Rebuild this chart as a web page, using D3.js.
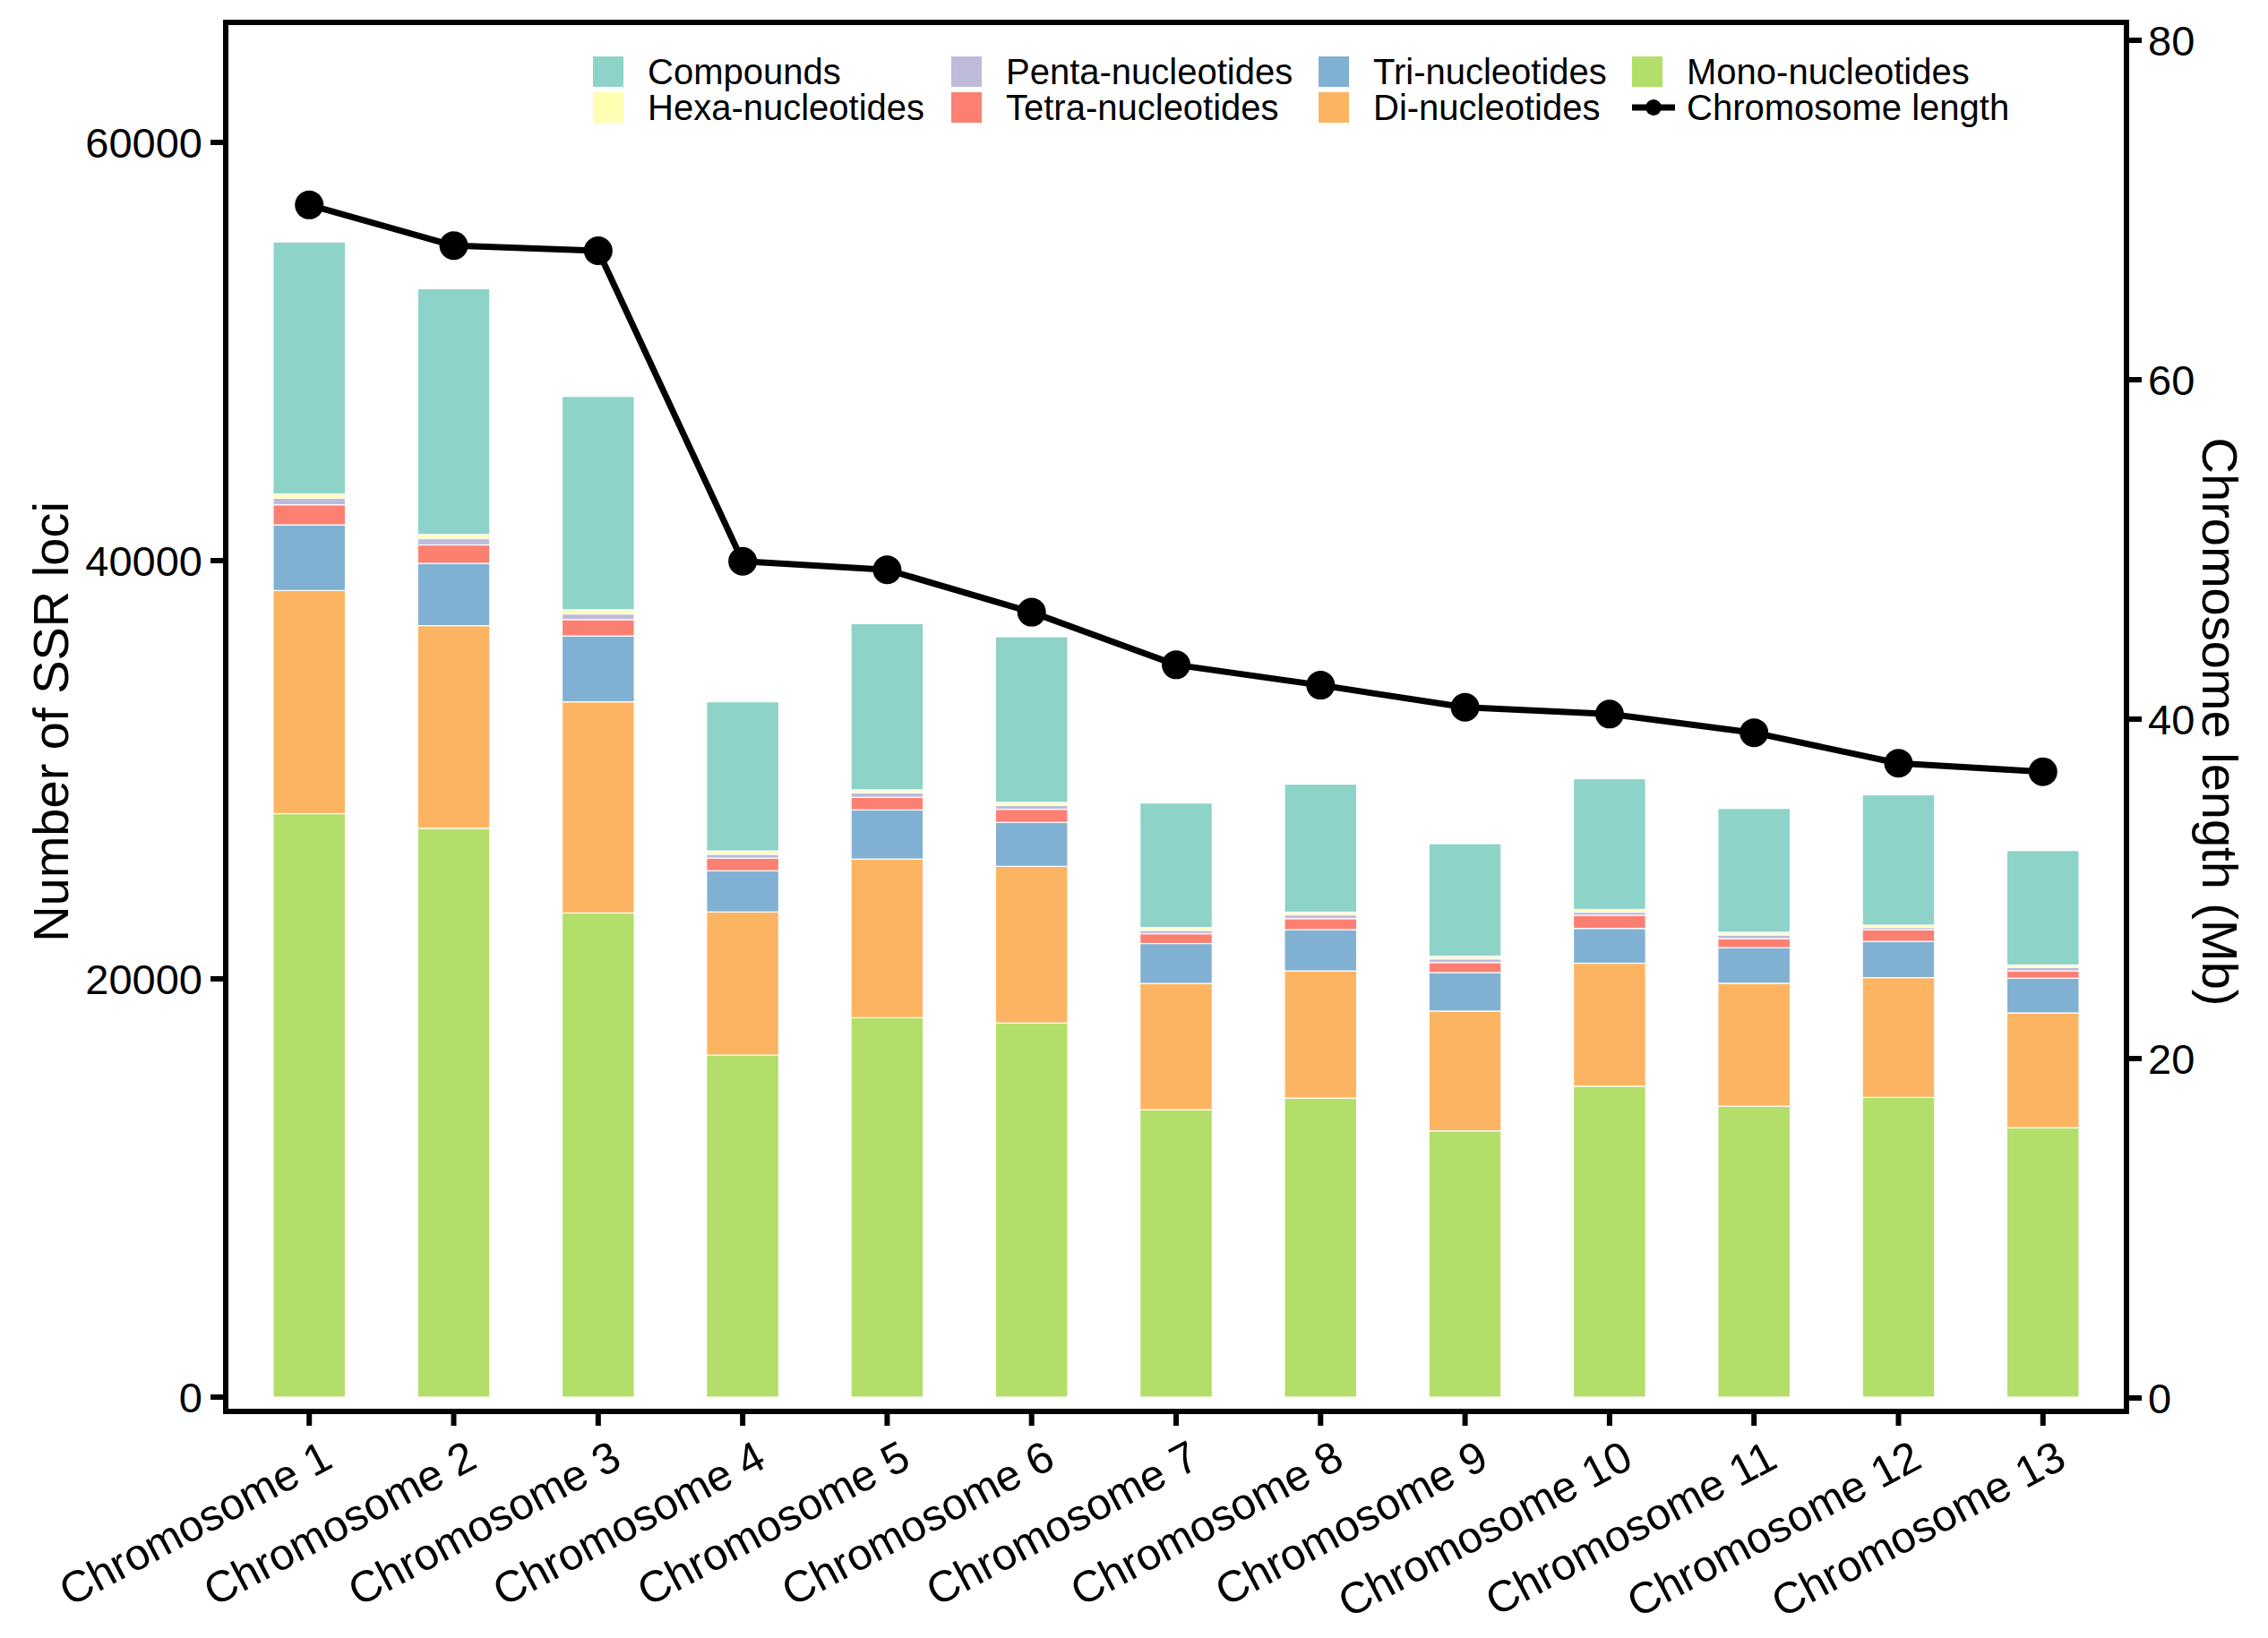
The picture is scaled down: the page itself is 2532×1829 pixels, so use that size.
<!DOCTYPE html>
<html>
<head>
<meta charset="utf-8">
<script src="https://cdn.jsdelivr.net/npm/d3@7"></script>
<style>
  html, body { margin: 0; padding: 0; background: #fff; }
  svg { display: block; }
  text { font-family: "Liberation Sans", Arial, sans-serif; fill: #000; }
</style>
</head>
<body>
<svg id="chart" width="2532" height="1829"></svg>
<script>
// ---- data ----
const categories = ["Chromosome 1","Chromosome 2","Chromosome 3","Chromosome 4","Chromosome 5","Chromosome 6","Chromosome 7","Chromosome 8","Chromosome 9","Chromosome 10","Chromosome 11","Chromosome 12","Chromosome 13"];
const mono      = [27900, 27200, 23150, 16350, 18140, 17890, 13740, 14300, 12730, 14870, 13910, 14330, 12880];
const di        = [10670,  9690, 10100,  6850,  7590,  7490,  6040,  6080,  5730,  5880,  5880,  5730,  5490];
const tri       = [ 3140,  2980,  3150,  1970,  2350,  2100,  1910,  1970,  1840,  1660,  1700,  1730,  1660];
const tetra     = [  960,   880,   780,   600,   600,   630,   470,   530,   480,   630,   430,   560,   350];
const penta     = [  320,   300,   270,   190,   220,   190,   160,   180,   175,   150,   180,   110,   175];
const hexa      = [  200,   200,   200,   160,   140,   140,   140,   130,   130,   130,   130,   110,   110];
const compounds = [12050, 11750, 10200,  7130,  7950,  7920,  5950,  6120,  5380,  6250,  5920,  6230,  5470];
const chrLength = [70.3, 67.9, 67.6, 49.3, 48.8, 46.3, 43.2, 42.0, 40.7, 40.3, 39.2, 37.4, 36.9];
const leftTicks = [0, 20000, 40000, 60000];
const rightTicks = [0, 20, 40, 60, 80];

const seriesNames  = ["Mono-nucleotides","Di-nucleotides","Tri-nucleotides","Tetra-nucleotides","Penta-nucleotides","Hexa-nucleotides","Compounds"];
const seriesValues = [mono, di, tri, tetra, penta, hexa, compounds];
const seriesColors = ["#B3DE69","#FDB462","#80B1D3","#FB8072","#BEBADA","#FFFFB3","#8DD3C7"];

// ---- layout ----
const svg = d3.select("#chart");
const panel = {left: 252, right: 2374, top: 25, bottom: 1576};

const x = d3.scaleBand().domain(categories).range([panel.left, panel.right])
  .paddingInner(0.5).paddingOuter(0.328);
const yL = d3.scaleLinear().domain([0, 60000]).range([1560, 159]);
const yR = d3.scaleLinear().domain([0, 80]).range([1561, 45]);

// stacked data
const table = categories.map((c, i) => {
  const o = {cat: c};
  seriesNames.forEach((s, k) => o[s] = seriesValues[k][i]);
  return o;
});
const stack = d3.stack().keys(seriesNames)(table);

svg.append("g").selectAll("g").data(stack).join("g")
  .attr("fill", (d, k) => seriesColors[k])
  .selectAll("rect").data(d => d).join("rect")
  .attr("x", d => x(d.data.cat))
  .attr("width", x.bandwidth())
  .attr("y", d => yL(d[1]))
  .attr("height", d => yL(d[0]) - yL(d[1]))
  .attr("stroke", "#fff").attr("stroke-width", 1.2);

// line
const cx = c => x(c) + x.bandwidth() / 2;
const line = d3.line().x((d, i) => cx(categories[i])).y(d => yR(d));
svg.append("path").datum(chrLength).attr("d", line)
  .attr("fill", "none").attr("stroke", "#000").attr("stroke-width", 7).attr("stroke-linejoin", "round");
svg.append("g").selectAll("circle").data(chrLength).join("circle")
  .attr("cx", (d, i) => cx(categories[i])).attr("cy", d => yR(d)).attr("r", 16).attr("fill", "#000");

// frame
svg.append("rect").attr("x", panel.left).attr("y", panel.top)
  .attr("width", panel.right - panel.left).attr("height", panel.bottom - panel.top)
  .attr("fill", "none").attr("stroke", "#000").attr("stroke-width", 6);

// left axis
const gL = svg.append("g");
leftTicks.forEach(t => {
  gL.append("line").attr("x1", panel.left - 17).attr("x2", panel.left).attr("y1", yL(t)).attr("y2", yL(t))
    .attr("stroke", "#000").attr("stroke-width", 6);
  gL.append("text").attr("x", panel.left - 26).attr("y", yL(t)).attr("dy", "0.36em")
    .attr("text-anchor", "end").attr("font-size", 47).text(t);
});
// right axis
const gR = svg.append("g");
rightTicks.forEach(t => {
  gR.append("line").attr("x1", panel.right).attr("x2", panel.right + 17).attr("y1", yR(t)).attr("y2", yR(t))
    .attr("stroke", "#000").attr("stroke-width", 6);
  gR.append("text").attr("x", panel.right + 24).attr("y", yR(t)).attr("dy", "0.36em")
    .attr("text-anchor", "start").attr("font-size", 47).text(t);
});
// x axis
const gX = svg.append("g");
categories.forEach(c => {
  gX.append("line").attr("x1", cx(c)).attr("x2", cx(c)).attr("y1", panel.bottom).attr("y2", panel.bottom + 16)
    .attr("stroke", "#000").attr("stroke-width", 6);
  gX.append("text")
    .attr("transform", `translate(${cx(c) + 12},${panel.bottom + 30}) rotate(-28)`)
    .attr("text-anchor", "end").attr("dy", "0.72em").attr("font-size", 49).text(c);
});

// axis titles
svg.append("text").attr("transform", `translate(76,806) rotate(-90)`)
  .attr("text-anchor", "middle").attr("font-size", 56).text("Number of SSR loci");
svg.append("text").attr("transform", `translate(2459,806) rotate(90)`)
  .attr("text-anchor", "middle").attr("font-size", 56).text("Chromosome length (Mb)");

// legend
const legendItems = [
  {name: "Compounds", col: 0, row: 0, color: "#8DD3C7"},
  {name: "Hexa-nucleotides", col: 0, row: 1, color: "#FFFFB3"},
  {name: "Penta-nucleotides", col: 1, row: 0, color: "#BEBADA"},
  {name: "Tetra-nucleotides", col: 1, row: 1, color: "#FB8072"},
  {name: "Tri-nucleotides", col: 2, row: 0, color: "#80B1D3"},
  {name: "Di-nucleotides", col: 2, row: 1, color: "#FDB462"},
  {name: "Mono-nucleotides", col: 3, row: 0, color: "#B3DE69"},
  {name: "Chromosome length", col: 3, row: 1, color: null}
];
const colX = [662, 1062, 1472, 1822];
const rowY = [80, 120];
const gLeg = svg.append("g");
legendItems.forEach(it => {
  const lx = colX[it.col], ly = rowY[it.row];
  if (it.color) {
    gLeg.append("rect").attr("x", lx).attr("y", ly - 17).attr("width", 34).attr("height", 34).attr("fill", it.color);
  } else {
    gLeg.append("line").attr("x1", lx).attr("x2", lx + 48).attr("y1", ly).attr("y2", ly)
      .attr("stroke", "#000").attr("stroke-width", 7);
    gLeg.append("circle").attr("cx", lx + 24).attr("cy", ly).attr("r", 9).attr("fill", "#000");
  }
  gLeg.append("text").attr("x", lx + 61).attr("y", ly).attr("dy", "0.36em")
    .attr("font-size", 40).text(it.name);
});
</script>
</body>
</html>
